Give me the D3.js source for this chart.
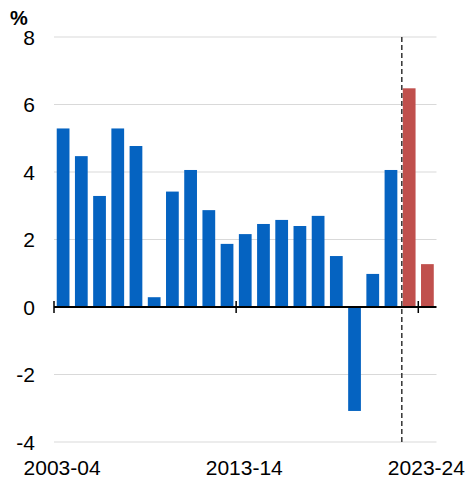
<!DOCTYPE html>
<html>
<head>
<meta charset="utf-8">
<script src="https://cdn.jsdelivr.net/npm/d3@7"></script>
<style>
  html, body { margin: 0; padding: 0; background: #fff; }
  svg { display: block; font-family: "Liberation Sans", Arial, sans-serif; }
</style>
</head>
<body>
<svg id="chart" width="468" height="479"></svg>
<script>
const years = ['2003-04', '2004-05', '2005-06', '2006-07', '2007-08', '2008-09', '2009-10',
  '2010-11', '2011-12', '2012-13', '2013-14', '2014-15', '2015-16', '2016-17', '2017-18',
  '2018-19', '2019-20', '2020-21', '2021-22', '2022-23', '2023-24'];
const growth = [5.29, 4.47, 3.29, 5.29, 4.77, 0.29, 3.42, 4.06, 2.87, 1.87, 2.16, 2.46,
  2.58, 2.40, 2.70, 1.51, -3.08, 0.98, 4.06, 6.48, 1.27];
const forecastFrom = '2022-23';
const tickYears = ['2003-04', '2013-14', '2023-24'];
const yTicks = [-4, -2, 0, 2, 4, 6, 8];

const svg = d3.select('#chart');
const left = 54, right = 436.5;

const x = d3.scaleBand().domain(years).range([left, right]).paddingInner(0.3).paddingOuter(0.15);
const y = d3.scaleLinear().domain([-4, 8]).range([442, 37]);
const gap = (x.step() - x.bandwidth()) / 2;
const firstForecast = years.indexOf(forecastFrom);

// gridlines
svg.append('g')
  .selectAll('line')
  .data(yTicks.filter((d) => d !== 0))
  .join('line')
  .attr('x1', left).attr('x2', right)
  .attr('y1', (d) => y(d)).attr('y2', (d) => y(d))
  .attr('stroke', '#d9d9d9').attr('stroke-width', 1);

// y labels
svg.append('g')
  .selectAll('text')
  .data(yTicks)
  .join('text')
  .attr('x', 35)
  .attr('y', (d) => y(d))
  .attr('dy', '0.36em')
  .attr('text-anchor', 'end')
  .attr('font-size', 21)
  .attr('fill', '#000')
  .text((d) => d);

svg.append('text')
  .attr('x', 10).attr('y', 25)
  .attr('font-size', 20).attr('font-weight', 'bold')
  .text('%');

// bars
svg.append('g')
  .selectAll('rect')
  .data(years.map((yr, i) => ({ yr, v: growth[i], i })))
  .join('rect')
  .attr('x', (d) => x(d.yr))
  .attr('width', x.bandwidth())
  .attr('y', (d) => y(Math.max(0, d.v)))
  .attr('height', (d) => Math.abs(y(d.v) - y(0)))
  .attr('fill', (d) => d.i >= firstForecast ? '#c0504d' : '#0563c1');

// forecast divider
const divX = x(forecastFrom) - 1;
svg.append('line')
  .attr('x1', divX).attr('x2', divX)
  .attr('y1', y(8)).attr('y2', y(-4))
  .attr('stroke', '#333').attr('stroke-width', 1.5)
  .attr('stroke-dasharray', '5,3');

// zero axis
svg.append('line')
  .attr('x1', left).attr('x2', right)
  .attr('y1', y(0)).attr('y2', y(0))
  .attr('stroke', '#000').attr('stroke-width', 2);

svg.append('g')
  .selectAll('line')
  .data(tickYears)
  .join('line')
  .attr('x1', (d) => x(d) - gap).attr('x2', (d) => x(d) - gap)
  .attr('y1', y(0) - 6).attr('y2', y(0) + 6)
  .attr('stroke', '#000').attr('stroke-width', 1.5);

svg.append('g')
  .selectAll('text')
  .data(tickYears)
  .join('text')
  .attr('x', (d) => x(d) + x.bandwidth() / 2 - 1)
  .attr('y', 475)
  .attr('text-anchor', 'middle')
  .attr('font-size', 21)
  .attr('fill', '#000')
  .text((d) => d);
</script>
</body>
</html>
